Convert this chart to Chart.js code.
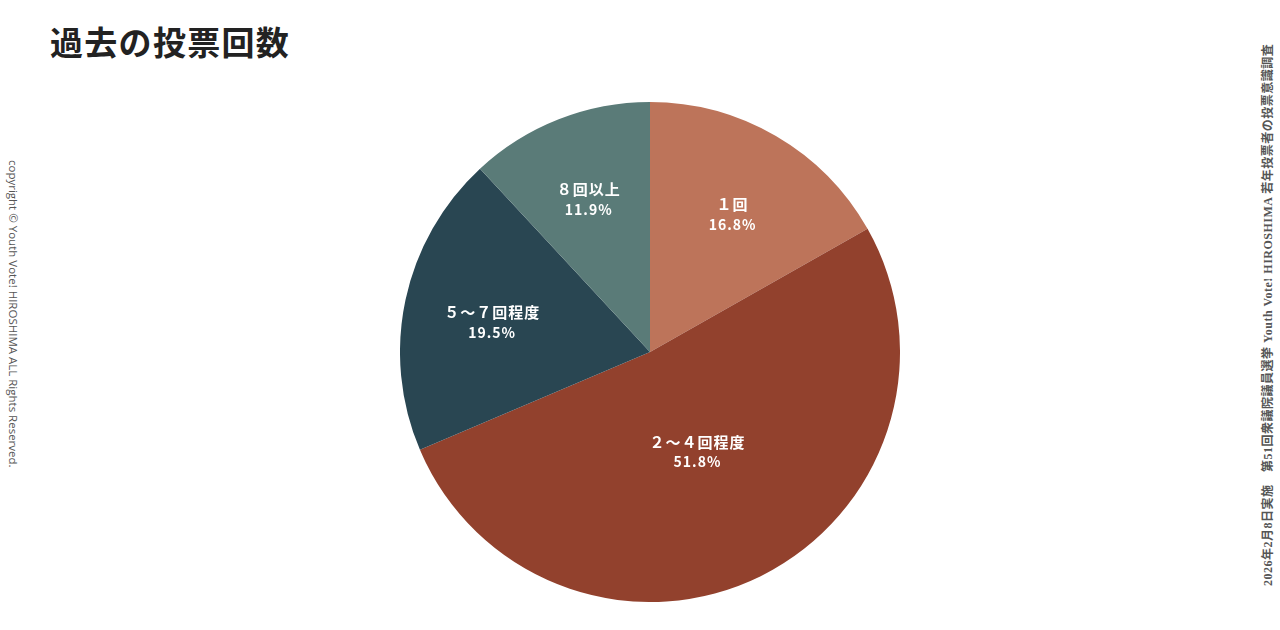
<!DOCTYPE html>
<html lang="ja">
<head>
  <meta charset="UTF-8" />
  <title>過去の投票回数</title>
  <script src="https://cdn.jsdelivr.net/npm/chart.js"></script>
  <style>
    body { margin:0; width:1280px; height:630px; background:#fff; position:relative; overflow:hidden; font-family:'Noto Sans CJK JP', 'Noto Sans', sans-serif; }
    h1 { position:absolute; left:50px; top:17px; margin:0; font-size:33px; font-weight:bold; color:#222; letter-spacing:1.3px; }
    .wrap { position:absolute; left:400px; top:102px; width:500px; height:500px; }
    .copy { position:absolute; left:14px; top:160px; transform-origin:0 0; transform:translate(7px,0) rotate(90deg); white-space:nowrap; font-family:'Open Sans', 'Noto Sans', sans-serif; font-size:11.5px; color:#555; }
    .note { position:absolute; left:1258px; top:586px; transform-origin:0 0; transform:rotate(-90deg); white-space:nowrap; font-family:'Liberation Serif', 'DejaVu Serif', 'Noto Sans CJK JP', serif; font-size:12px; font-weight:bold; color:#555; letter-spacing:0.5px; }
  </style>
</head>
<body>
  <h1>過去の投票回数</h1>
  <div class="copy">copyright © Youth Vote! HIROSHIMA ALL Rights Reserved.</div>
  <div class="note">2026年2月8日実施　第51回衆議院議員選挙 Youth Vote! HIROSHIMA 若年投票者の投票意識調査</div>
  <div class="wrap"><canvas id="pie"></canvas></div>
  <script>
    // data
    const labels = ['１回', '２～４回程度', '５～７回程度', '８回以上'];
    const values = [16.8, 51.8, 19.5, 11.9];
    const colors = ['#bd745a', '#92412d', '#294652', '#5a7b78'];

    // draw name + percent near the centroid of each slice
    const sliceLabels = {
      id: 'sliceLabels',
      afterDatasetsDraw(chart) {
        const ctx = chart.ctx;
        const meta = chart.getDatasetMeta(0);
        ctx.save();
        ctx.fillStyle = '#fff';
        ctx.textAlign = 'center';
        ctx.textBaseline = 'middle';
        meta.data.forEach((arc, i) => {
          const p = arc.getProps(['x','y','startAngle','endAngle','outerRadius'], true);
          const a = p.endAngle - p.startAngle;
          const mid = p.startAngle + a / 2;
          const d = 4 * p.outerRadius * Math.sin(a / 2) / (3 * a) + 5;
          const x = p.x + Math.cos(mid) * d;
          const y = p.y + Math.sin(mid) * d + 3;
          ctx.letterSpacing = '1px';
          ctx.font = "bold 15px 'Noto Sans CJK JP', sans-serif";
          ctx.fillText(labels[i], x, y - 9);
          ctx.font = "bold 14px 'Noto Sans CJK JP', sans-serif";
          ctx.fillText(values[i].toFixed(1) + '%', x, y + 11);
        });
        ctx.restore();
      }
    };

    new Chart(document.getElementById('pie'), {
      type: 'pie',
      data: { labels: labels, datasets: [{ data: values, backgroundColor: colors, borderWidth: 0 }] },
      options: {
        responsive: true, maintainAspectRatio: false, animation: false,
        layout: { padding: 0 },
        plugins: { legend: { display: false }, tooltip: { enabled: false } }
      },
      plugins: [sliceLabels]
    });
  </script>
</body>
</html>
